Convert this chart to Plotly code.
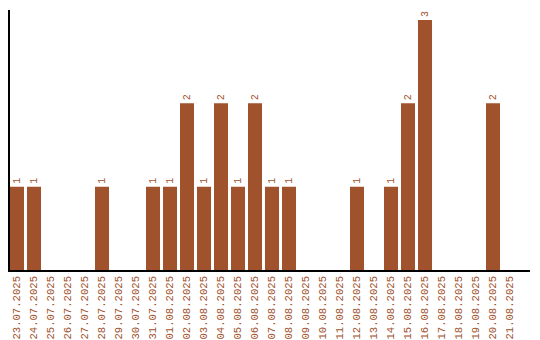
import plotly.graph_objects as go

dates = ["23.07.2025","24.07.2025","25.07.2025","26.07.2025","27.07.2025","28.07.2025",
         "29.07.2025","30.07.2025","31.07.2025","01.08.2025","02.08.2025","03.08.2025",
         "04.08.2025","05.08.2025","06.08.2025","07.08.2025","08.08.2025","09.08.2025",
         "10.08.2025","11.08.2025","12.08.2025","13.08.2025","14.08.2025","15.08.2025",
         "16.08.2025","17.08.2025","18.08.2025","19.08.2025","20.08.2025","21.08.2025"]
counts = [1,1,0,0,0,1,0,0,1,1,2,1,2,1,2,1,1,0,0,0,1,0,1,2,3,0,0,0,2,0]

color = "#A0522D"
labels = [str(v) if v > 0 else "" for v in counts]

fig = go.Figure(go.Bar(
    x=dates, y=counts, marker_color=color, marker_line_width=0,
    text=labels, textposition="outside", textangle=-90, cliponaxis=False,
    textfont=dict(family="Liberation Mono", size=10, color=color),
))
fig.update_layout(
    width=540, height=340, margin=dict(l=10, r=10, t=10, b=70),
    plot_bgcolor="white", paper_bgcolor="white", bargap=0.176, showlegend=False,
    font=dict(family="Liberation Mono", size=10, color=color),
)
fig.update_xaxes(showline=True, linecolor="black", linewidth=1.5, tickangle=-90,
                 ticks="", showgrid=False, automargin=False, range=[-0.412, 30.176],
                 tickfont=dict(family="Liberation Mono", size=10.6, color=color))
fig.update_yaxes(showline=True, linecolor="black", linewidth=1.5, showticklabels=False,
                 ticks="", showgrid=False, zeroline=False, range=[0, 3.12], automargin=False)
fig.write_html("out.html")
